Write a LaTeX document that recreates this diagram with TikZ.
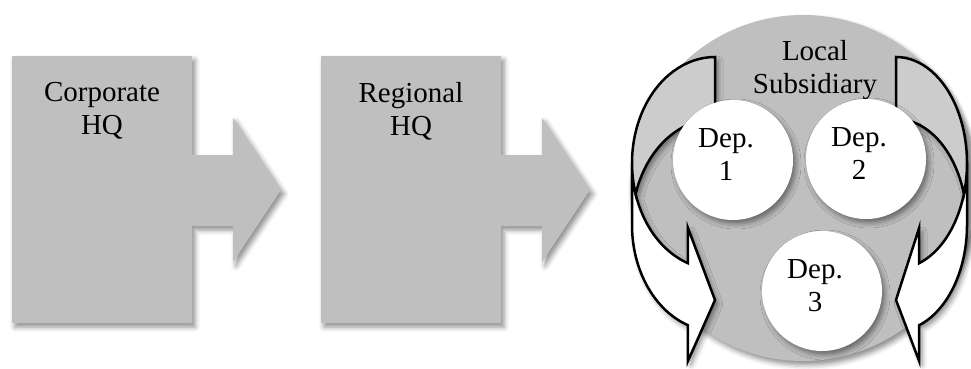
\documentclass[tikz,border=0pt]{standalone}
\usepackage{fontspec}
\setmainfont{Liberation Serif}
\usepackage{tikz}
\usetikzlibrary{shadows.blur}
\definecolor{hqfill}{HTML}{BFBFBF}
\definecolor{backfill}{HTML}{CCCCCC}
\tikzset{
  softshadow/.style={blur shadow={shadow xshift=3pt, shadow yshift=-4pt, shadow blur radius=5pt, shadow opacity=45}},
  hq/.style={fill=hqfill, softshadow},
  lbl/.style={align=center, inner sep=0pt, font=\fontsize{29}{33}\selectfont},
  dep/.style={circle, fill=white, minimum size=120, inner sep=0pt, softshadow},
  ribbon/.style={draw=black, line width=2.5pt, line join=miter},
  % curved arrow round the subsidiary, tail at x=0, body to x=-1
  subarrow/.pic={
    \path[fill=white, softshadow] (0,311) arc[start angle=90, end angle=180, x radius=1, y radius=106]
      -- (-1,143) arc[start angle=180, end angle=251, x radius=1, y radius=106]
      -- (-0.3256,7) -- (0,68) -- (-0.3256,140) -- (-0.3256,104.8)
      arc[start angle=251, end angle=197, x radius=1, y radius=106]
      arc[start angle=163, end angle=90, x radius=1, y radius=106] -- cycle;
    % front band with the head
    \path[ribbon, fill=white] (-1,205) arc[start angle=180, end angle=251, x radius=1, y radius=106]
      -- (-0.3256,140) -- (0,68) -- (-0.3256,7) -- (-0.3256,42.8)
      arc[start angle=251, end angle=180, x radius=1, y radius=106] -- cycle;
    % back band
    \path[ribbon, fill=backfill] (0,311) arc[start angle=90, end angle=197, x radius=1, y radius=106]
      arc[start angle=163, end angle=90, x radius=1, y radius=106] -- cycle;
  }
}

\begin{document}
\begin{tikzpicture}[x=1pt, y=1pt]
  \useasboundingbox (0,0) rectangle (971,368);

  % headquarters with their arrows
  \foreach \dx/\nm/\txt in {0/corp/Corporate, 309/reg/Regional} {
    \begin{scope}[xshift=\dx]
      \path[hq] (12,312) -- (192,312) -- (192,213) -- (233,213) -- (233,250) -- (281,178)
        -- (233,106) -- (233,142) -- (192,142) -- (192,45) -- (12,45) -- cycle;
      \node[lbl] (\nm) at (102,257) {\txt\\HQ};
    \end{scope}
  }

  % local subsidiary
  \node[circle, fill=hqfill, minimum size=346, softshadow] (sub) at (803,180) {};
  \node[lbl] (subtxt) at (815,298) {Local\\Subsidiary};

  \pic[xscale=83] at (715,0) {subarrow};
  \pic[xscale=-71] at (896,0) {subarrow};

  \node[dep] (dep1) at (733,208) {};
  \node[dep] (dep2) at (866,209) {};
  \node[dep] (dep3) at (822,77) {};
  \node[lbl] (dep1txt) at ([xshift=-7,yshift=5]dep1.center) {Dep.\\1};
  \node[lbl] (dep2txt) at ([xshift=-7,yshift=5]dep2.center) {Dep.\\2};
  \node[lbl] (dep3txt) at ([xshift=-7,yshift=5]dep3.center) {Dep.\\3};
\end{tikzpicture}
\end{document}
